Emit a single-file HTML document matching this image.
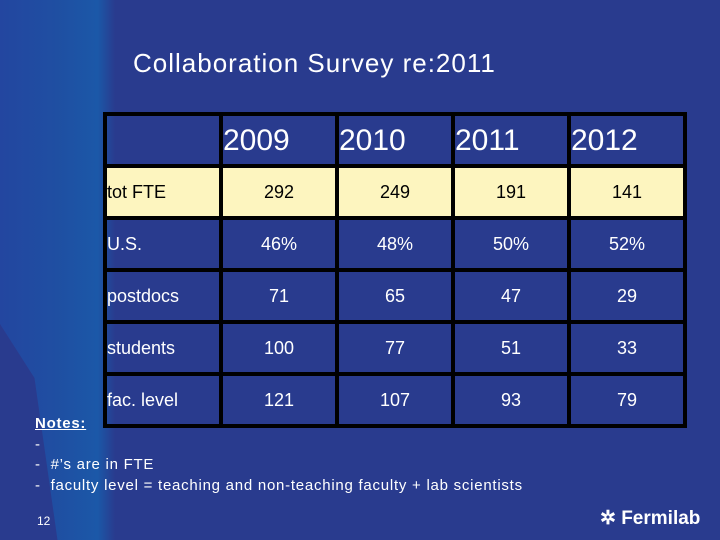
<!DOCTYPE html>
<html><head><meta charset="utf-8"><style>
body{margin:0;width:720px;height:540px;overflow:hidden;font-family:"Liberation Sans",sans-serif}
#slide{position:relative;width:720px;height:540px;background:#293b8e;overflow:hidden}
#lg{position:absolute;left:0;top:0;width:115px;height:540px;background:linear-gradient(90deg,#2346a0 0%,#1f4fa2 50%,#1b58a8 85%,#293b8e 100%);clip-path:polygon(0 0,100% 0,100% 100%,50% 100%,30% 70%,0 60%)}
#title{position:absolute;left:133px;top:48px;font-size:26px;color:#fff;letter-spacing:1px}
table{position:absolute;left:103px;top:112px;border-collapse:collapse;border:4px solid #000;table-layout:fixed;width:584px}
td{border:4px solid #000;height:48px;color:#fff;text-align:center;font-size:18px;padding:0}
td.l{text-align:left;}
tr.h td{font-size:30px;height:46px;text-align:left;padding-left:0;padding-top:2px}
tr.y td{background:#fdf5bf;color:#000}
#notes{position:absolute;left:35px;top:414px;color:#fff;font-size:15px;line-height:20.5px;letter-spacing:0.75px}
#pg{position:absolute;left:37px;top:514px;color:#fff;font-size:12px}
#logo{position:absolute;left:600px;top:507px;color:#fff;font-size:19px;font-weight:bold}
</style></head><body>
<div id="slide">
<div id="lg"></div>
<div id="title">Collaboration Survey re:2011</div>
<table>
<tr class="h"><td></td><td>2009</td><td>2010</td><td>2011</td><td>2012</td></tr>
<tr class="y"><td class="l">tot FTE</td><td>292</td><td>249</td><td>191</td><td>141</td></tr>
<tr><td class="l">U.S.</td><td>46%</td><td>48%</td><td>50%</td><td>52%</td></tr>
<tr><td class="l">postdocs</td><td>71</td><td>65</td><td>47</td><td>29</td></tr>
<tr><td class="l">students</td><td>100</td><td>77</td><td>51</td><td>33</td></tr>
<tr><td class="l">fac. level</td><td>121</td><td>107</td><td>93</td><td>79</td></tr>
</table>
<div id="notes"><u><b>Notes:</b></u><br>-<br>- &nbsp;#’s are in FTE<br>- &nbsp;faculty level = teaching and non-teaching faculty + lab scientists</div>
<div id="pg">12</div>
<div id="logo">✲ Fermilab</div>
</div>
</body></html>
